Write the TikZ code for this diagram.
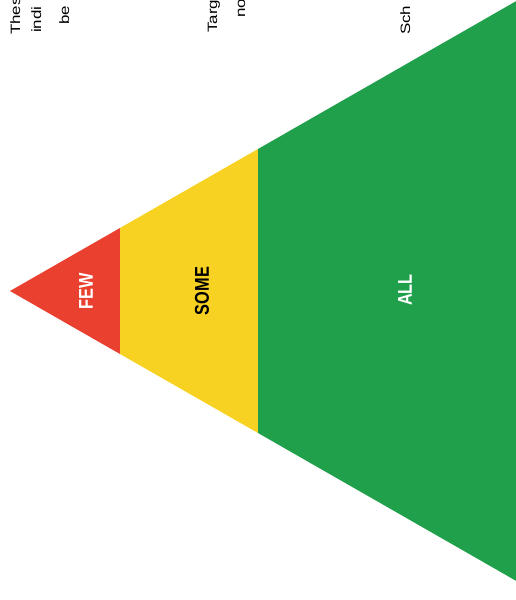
\documentclass[tikz,border=0pt]{standalone}
\usepackage{fontspec}
\setmainfont{Liberation Sans}
\definecolor{fewred}{RGB}{233,64,48}
\definecolor{someyellow}{RGB}{247,210,34}
\definecolor{allgreen}{RGB}{32,160,75}
\tikzset{
  tier/.style={rotate=90, font=\bfseries\fontsize{20}{24}\selectfont},
  note/.style={rotate=90, anchor=base west, inner sep=0pt, font=\fontsize{17}{20}\selectfont}
}
\newcommand{\tiernarrow}[1]{\scalebox{0.82}[1]{#1}}
\newcommand{\noteflat}[1]{\scalebox{1}[0.8]{#1}}
\begin{document}
\begin{tikzpicture}[x=1bp, y=-1bp]
  \useasboundingbox (0,0) rectangle (516,600);
  \clip (0,0) rectangle (516,600);
  % pyramid, apex on the left
  \fill[fewred] (10,291) -- (120,228) -- (120,354) -- cycle;
  \fill[someyellow] (120,228) -- (258,149) -- (258,433) -- (120,354) -- cycle;
  \fill[allgreen] (258,149) -- (560,-24) -- (560,606) -- (258,433) -- cycle;
  % tier labels
  \node[tier, text=white] (few) at (86,291) {\tiernarrow{FEW}};
  \node[tier, text=black] (some) at (202,291) {\tiernarrow{SOME}};
  \node[tier, text=white] (all) at (405,290) {\tiernarrow{ALL}};
  % notes along the top (cut off)
  \node[note] (n1a) at (20,35) {\noteflat{Thes}};
  \node[note] (n1b) at (41,33) {\noteflat{indi}};
  \node[note] (n1c) at (69,25) {\noteflat{be}};
  \node[note] (n2a) at (217,33) {\noteflat{Targ}};
  \node[note] (n2b) at (245,18) {\noteflat{no}};
  \node[note] (n3a) at (410,35) {\noteflat{Sch}};
\end{tikzpicture}
\end{document}
